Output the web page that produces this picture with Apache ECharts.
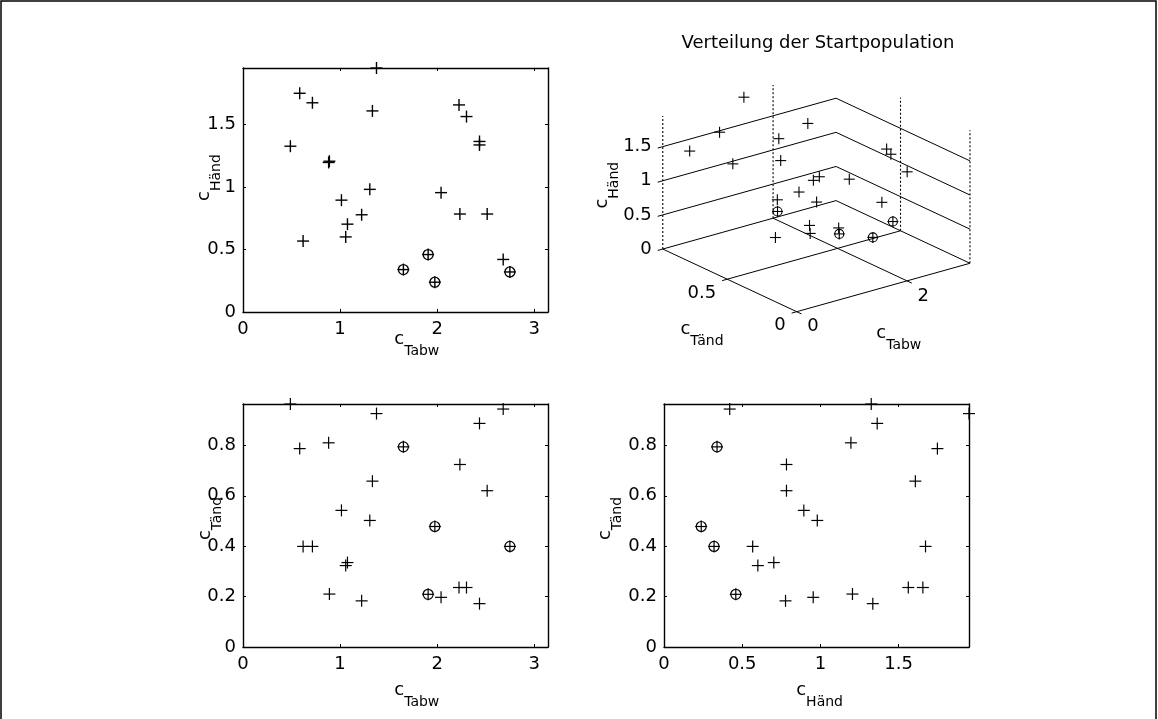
<!DOCTYPE html>
<html>
<head>
<meta charset="utf-8">
<script src="https://cdn.jsdelivr.net/npm/echarts@6/dist/echarts.min.js"></script>
<style>
  html, body { margin: 0; padding: 0; background: #fff; }
  #chart { width: 1158px; height: 719px; }
</style>
</head>
<body>
<div id="chart"></div>
<script>
// Start population: one entry per individual (c_Tabw, c_Tänd, c_Händ)
const tabw = [1.375, 0.584, 0.715, 1.333, 2.225, 2.302, 2.436, 2.436, 0.488, 0.882, 0.890, 1.306, 1.014,
              2.040, 1.222, 1.076, 1.058, 0.619, 2.234, 2.515, 2.680, 1.907, 1.652, 1.976, 2.749];
const tand = [0.926, 0.787, 0.399, 0.658, 0.236, 0.236, 0.887, 0.172, 0.964, 0.810, 0.210, 0.502, 0.542,
              0.197, 0.183, 0.335, 0.323, 0.399, 0.724, 0.620, 0.944, 0.209, 0.794, 0.478, 0.399];
const hand = [1.950, 1.748, 1.672, 1.607, 1.655, 1.562, 1.363, 1.335, 1.325, 1.195, 1.205, 0.980, 0.894,
              0.954, 0.777, 0.702, 0.600, 0.567, 0.783, 0.783, 0.420, 0.459, 0.339, 0.238, 0.320];
// individuals highlighted with a circle
const circled = [21, 22, 23, 24];

// tick values
const tabwTicks = [0, 1, 2, 3];
const tandTicks = [0, 0.2, 0.4, 0.6, 0.8];
const handTicks = [0, 0.5, 1, 1.5];
const tabwTicks3d = [0, 2];
const tandTicks3d = [0, 0.5];
const handTicks3d = [0, 0.5, 1, 1.5];

const titleText = 'Verteilung der Startpopulation';

// axis limits
const tabwMax = Math.PI;
const tandMax = Math.max(...tand);
const handMax = Math.max(...hand);

const FONT = "'DejaVu Sans', sans-serif";
const BLACK = '#000';

// ---------- 3-D view (orthographic, azimuth / elevation in degrees) ----------
const VIEW = { az: 37.7, el: 21.2 };
const BOX_ASPECT = [1, 1, 0.652];
function project(tb, td, hd) {
  const a = VIEW.az * Math.PI / 180, e = VIEW.el * Math.PI / 180;
  const u = tb / tabwMax * BOX_ASPECT[0];
  const v = td / tandMax * BOX_ASPECT[1];
  const w = hd / handMax * BOX_ASPECT[2];
  return [u * Math.cos(a) - v * Math.sin(a),
          (u * Math.sin(a) + v * Math.cos(a)) * Math.sin(e) + w * Math.cos(e)];
}

// ---------- helpers ----------
function axis(gridIndex, position, max, ticks, showLabels, margin) {
  return {
    type: 'value', gridIndex, position, min: 0, max,
    axisLine: { show: true, onZero: false, lineStyle: { color: BLACK, width: 1.4 } },
    axisTick: { show: true, inside: true, length: 3, customValues: ticks, lineStyle: { color: BLACK, width: 1 } },
    axisLabel: { show: showLabels, customValues: ticks, margin, color: BLACK, fontFamily: FONT, fontSize: 18 },
    splitLine: { show: false }
  };
}
function plusSeries(xi, yi, data, size, lw) {
  return {
    type: 'custom', xAxisIndex: xi, yAxisIndex: yi, data, clip: false, silent: true, z: 5,
    renderItem(params, api) {
      const p = api.coord([api.value(0), api.value(1)]);
      const h = size / 2;
      const st = { stroke: BLACK, lineWidth: lw };
      return { type: 'group', children: [
        { type: 'line', shape: { x1: p[0] - h, y1: p[1], x2: p[0] + h, y2: p[1] }, style: st },
        { type: 'line', shape: { x1: p[0], y1: p[1] - h, x2: p[0], y2: p[1] + h }, style: st }
      ] };
    }
  };
}
function circleSeries(xi, yi, data, r, lw) {
  return {
    type: 'custom', xAxisIndex: xi, yAxisIndex: yi, data, clip: false, silent: true, z: 6,
    renderItem(params, api) {
      const p = api.coord([api.value(0), api.value(1)]);
      return { type: 'circle', shape: { cx: p[0], cy: p[1], r }, style: { fill: 'none', stroke: BLACK, lineWidth: lw } };
    }
  };
}
function subLabel(cx, cy, main, sub, rotated) {
  return {
    type: 'text', x: cx, y: cy, rotation: rotated ? Math.PI / 2 : 0, silent: true,
    style: {
      text: '{c|' + main + '}{s|' + sub + '}',
      align: 'center', verticalAlign: 'middle', fill: BLACK,
      rich: {
        c: { fontSize: 18, fontFamily: FONT, fill: BLACK, verticalAlign: 'top' },
        s: { fontSize: 14, fontFamily: FONT, fill: BLACK, verticalAlign: 'top', padding: [14, 0, 0, 0] }
      }
    }
  };
}

// ---------- 2-D panel data ----------
const idx = tabw.map((_, i) => i);
const tlData = idx.map(i => [tabw[i], hand[i]]);
const blData = idx.map(i => [tabw[i], tand[i]]);
const brData = idx.map(i => [hand[i], tand[i]]);
const tlCirc = circled.map(i => [tabw[i], hand[i]]);
const blCirc = circled.map(i => [tabw[i], tand[i]]);
const brCirc = circled.map(i => [hand[i], tand[i]]);

// ---------- 3-D panel: box grid, ticks, labels ----------
const segs = [];  // [x1, y1, x2, y2, dashed]
function seg(a, b, dashed) {
  const p = project(a[0], a[1], a[2]), q = project(b[0], b[1], b[2]);
  segs.push([p[0], p[1], q[0], q[1], dashed ? 1 : 0]);
}
// floor axes and floor grid
seg([0, 0, 0], [tabwMax, 0, 0]);
seg([0, 0, 0], [0, tandMax, 0]);
tabwTicks3d.filter(t => t > 0).forEach(t => seg([t, 0, 0], [t, tandMax, 0]));
tandTicks3d.filter(t => t > 0).forEach(t => seg([0, t, 0], [tabwMax, t, 0]));
// back walls: horizontal grid lines
handTicks3d.forEach(h => {
  seg([0, tandMax, h], [tabwMax, tandMax, h]);
  seg([tabwMax, tandMax, h], [tabwMax, 0, h]);
});
// back walls: vertical grid lines
tabwTicks3d.forEach(t => seg([t, tandMax, 0], [t, tandMax, handMax], true));
tandTicks3d.forEach(t => seg([tabwMax, t, 0], [tabwMax, t, handMax], true));

// tick marks (short strokes pointing away from the box)
const TICK = 0.024;
const a0 = VIEW.az * Math.PI / 180, e0 = VIEW.el * Math.PI / 180;
const dirU = [Math.cos(a0), Math.sin(a0) * Math.sin(e0)];
const dirV = [-Math.sin(a0), Math.cos(a0) * Math.sin(e0)];
function tickSeg(p, d) {
  const n = Math.hypot(d[0], d[1]);
  segs.push([p[0], p[1], p[0] + d[0] / n * TICK, p[1] + d[1] / n * TICK, 0]);
}
handTicks3d.forEach(h => tickSeg(project(0, tandMax, h), [-dirU[0], -dirU[1]]));
tandTicks3d.forEach(t => tickSeg(project(0, t, 0), [-dirU[0], -dirU[1]]));
tabwTicks3d.forEach(t => tickSeg(project(t, 0, 0), [-dirV[0], -dirV[1]]));

// tick labels: [position, text, dx, dy, align]
const labels3d = [];
handTicks3d.forEach(h => labels3d.push([project(0, tandMax, h), String(h), -11, 0, 'right']));
tandTicks3d.forEach(t => labels3d.push([project(0, t, 0), String(t), -11, 14, 'right']));
tabwTicks3d.forEach(t => labels3d.push([project(t, 0, 0), String(t), 10.5, 15, 'left']));

const pts3d = idx.map(i => project(tabw[i], tand[i], hand[i]));
const circ3d = circled.map(i => project(tabw[i], tand[i], hand[i]));

// ---------- chart ----------
const chart = echarts.init(document.getElementById('chart'), null, { renderer: 'canvas' });
chart.setOption({
  animation: false,
  backgroundColor: '#fff',
  textStyle: { fontFamily: FONT },
  grid: [
    { left: 243, top: 68, width: 305, height: 244 },
    { left: 243, top: 404, width: 305, height: 243 },
    { left: 664, top: 404, width: 305, height: 243 },
    { left: 643.4, top: 37.95, width: 339.45, height: 339.45 }
  ],
  xAxis: [
    axis(0, 'bottom', tabwMax, tabwTicks, true, 8),
    axis(0, 'top', tabwMax, tabwTicks, false, 8),
    axis(1, 'bottom', tabwMax, tabwTicks, true, 8),
    axis(1, 'top', tabwMax, tabwTicks, false, 8),
    axis(2, 'bottom', handMax, handTicks, true, 8),
    axis(2, 'top', handMax, handTicks, false, 8),
    { type: 'value', gridIndex: 3, min: -0.7, max: 0.85, show: false }
  ],
  yAxis: [
    axis(0, 'left', handMax, handTicks, true, 7),
    axis(0, 'right', handMax, handTicks, false, 7),
    axis(1, 'left', tandMax, tandTicks, true, 7),
    axis(1, 'right', tandMax, tandTicks, false, 7),
    axis(2, 'left', tandMax, tandTicks, true, 7),
    axis(2, 'right', tandMax, tandTicks, false, 7),
    { type: 'value', gridIndex: 3, min: -0.3, max: 1.25, show: false }
  ],
  series: [
    plusSeries(0, 0, tlData, 12, 1.4),
    circleSeries(0, 0, tlCirc, 5, 1.3),
    plusSeries(2, 2, blData, 12, 1.2),
    circleSeries(2, 2, blCirc, 5, 1.2),
    plusSeries(4, 4, brData, 12, 1.2),
    circleSeries(4, 4, brCirc, 5, 1.2),
    {
      type: 'custom', xAxisIndex: 6, yAxisIndex: 6, data: segs, clip: false, silent: true, z: 2,
      renderItem(params, api) {
        const p = api.coord([api.value(0), api.value(1)]);
        const q = api.coord([api.value(2), api.value(3)]);
        const dashed = api.value(4) === 1;
        return { type: 'line', shape: { x1: p[0], y1: p[1], x2: q[0], y2: q[1] },
                 style: { stroke: BLACK, lineWidth: dashed ? 1.1 : 1, lineDash: dashed ? [2, 2] : null } };
      }
    },
    {
      type: 'custom', xAxisIndex: 6, yAxisIndex: 6, data: labels3d.map(l => l[0]), clip: false, silent: true, z: 3,
      renderItem(params, api) {
        const l = labels3d[params.dataIndex];
        const p = api.coord([api.value(0), api.value(1)]);
        return { type: 'text', x: p[0] + l[2], y: p[1] + l[3],
                 style: { text: l[1], fill: BLACK, fontSize: 18, fontFamily: FONT, align: l[4], verticalAlign: 'middle' } };
      }
    },
    plusSeries(6, 6, pts3d, 11, 1.1),
    circleSeries(6, 6, circ3d, 4.5, 1.1)
  ],
  graphic: [
    { type: 'rect', silent: true, shape: { x: 1, y: 1, width: 1155, height: 760 },
      style: { fill: 'none', stroke: BLACK, lineWidth: 1.5 } },
    { type: 'text', x: 818, y: 43, silent: true,
      style: { text: titleText, fill: BLACK, fontSize: 18, fontFamily: FONT, align: 'center', verticalAlign: 'middle' } },
    subLabel(416.8, 344, 'c', 'Tabw', false),
    subLabel(209, 177.5, 'c', 'Händ', true),
    subLabel(416.8, 695.6, 'c', 'Tabw', false),
    subLabel(210.6, 518.5, 'c', 'Tänd', true),
    subLabel(819.6, 695.6, 'c', 'Händ', false),
    subLabel(610.6, 518.5, 'c', 'Tänd', true),
    subLabel(702, 334, 'c', 'Tänd', false),
    subLabel(898.8, 338, 'c', 'Tabw', false),
    subLabel(607, 185.2, 'c', 'Händ', true)
  ]
});
</script>
</body>
</html>
